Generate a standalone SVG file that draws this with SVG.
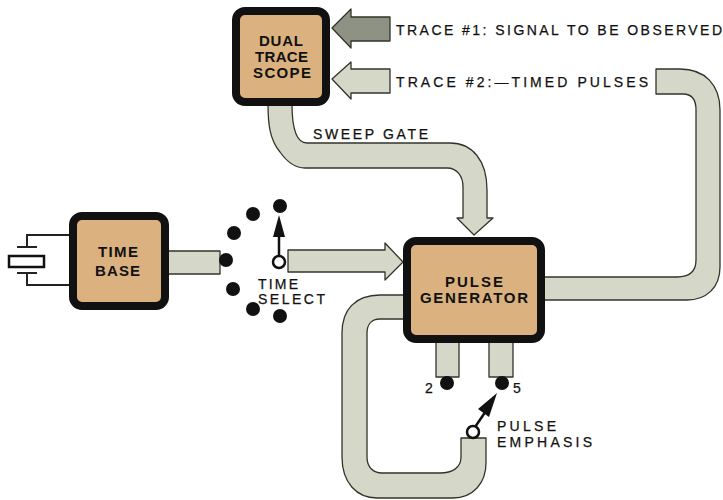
<svg xmlns="http://www.w3.org/2000/svg" width="723" height="500" viewBox="0 0 723 500">
<style>
.bus{fill:#d5d8c9;stroke:#33332b;stroke-width:1.3;stroke-linejoin:round}
.dark{fill:#8e9285}
.box{fill:#dab17f;stroke:#111;stroke-width:8}
.dot{fill:#111}
.wire{fill:none;stroke:#222;stroke-width:2}
.lever{fill:none;stroke:#111;stroke-width:2.5}
.ring{fill:#fff;stroke:#111;stroke-width:2.5}
text{font-family:"Liberation Sans",Arial,sans-serif;fill:#111;font-size:14px;stroke:#111;stroke-width:.25}
.c{font-size:15px;font-weight:bold;stroke:none}
</style>
<rect width="723" height="500" fill="#fff"/>
<g id="connectors">
<path class="bus" d="M268 104C268 125 270 140 280 152C287 162 295 168 305 168H447C457 168 463 176 463 187V218H457L474 235L493 218H487V190C487 160 472 143 450 143H307C298 143 292 132 292 104Z"/>
<path class="bus" d="M167 251H220V274H167Z"/>
<path class="bus" d="M288 250H385V243L403 262L385 280V272H288Z"/>
<path class="bus" d="M543 277H677C689 277 696 272 696 260V110C696 100 692 94 683 94H656V69H680C705 69 720 85 720 110V267C720 288 706 300 687 300H543Z"/>
<path class="bus" d="M405 295H380C355 295 342 310 342 333V457C342 483 357 498 377 498H453C473 498 486 483 486 463V438H461V457C461 468 452 473 440 473H382C373 473 367 467 367 457V333C367 324 372 319 380 319H405Z"/>
<path class="bus" d="M436 341H459V377H436Z"/>
<path class="bus" d="M489 341H513V377H489Z"/>
<path class="bus dark" d="M390 17H351V9L332 28L351 48V41H390Z"/>
<path class="bus" d="M390 69H351V62L332 79L351 99V93H390Z"/>
<path class="wire" d="M69 235H27V247M17 247H37M17 273H37M27 273V285H69"/>
<rect x="9" y="256" width="35" height="11" fill="#fff" stroke="#111" stroke-width="2.5"/>
<path class="lever" d="M279 258V230"/>
<path class="dot" d="M279 215L273 237H285Z"/>
<path class="lever" d="M473 430L488 408"/>
<path class="dot" d="M497 393L478 409L489 417Z"/>
</g>
<g id="time-base"><rect class="box" x="73" y="216" width="92" height="90" rx="9"/><text class="c" x="98" y="257" textLength="40">TIME</text><text class="c" x="95" y="276" textLength="45">BASE</text></g>
<g id="dual-trace-scope"><rect class="box" x="236" y="11" width="90" height="91" rx="9"/><text class="c" x="259" y="46" textLength="44">DUAL</text><text class="c" x="255" y="62" textLength="53">TRACE</text><text class="c" x="253" y="78" textLength="58">SCOPE</text></g>
<g id="pulse-generator"><rect class="box" x="407" y="241" width="134" height="98" rx="9"/><text class="c" x="445" y="287" textLength="58">PULSE</text><text class="c" x="420" y="303" textLength="108">GENERATOR</text></g>
<g id="switch-time"><circle class="dot" cx="226" cy="260" r="7"/><circle class="dot" cx="280" cy="206" r="7"/><circle class="dot" cx="253" cy="214" r="7"/><circle class="dot" cx="234" cy="233" r="7"/><circle class="dot" cx="233" cy="289" r="7"/><circle class="dot" cx="253" cy="309" r="7"/><circle class="dot" cx="280" cy="316" r="7"/><circle class="ring" cx="279" cy="262" r="6"/></g>
<g id="switch-pulse"><circle class="dot" cx="447" cy="383" r="7"/><circle class="dot" cx="502" cy="383" r="7"/><circle class="ring" cx="473" cy="432" r="6"/></g>
<g id="labels">
<text x="396" y="35" textLength="326">TRACE #1: SIGNAL TO BE OBSERVED</text>
<text x="396" y="87" textLength="252">TRACE #2:—TIMED PULSES</text>
<text x="313" y="139" textLength="115">SWEEP GATE</text>
<text x="258" y="289" textLength="40">TIME</text>
<text x="258" y="304" textLength="67">SELECT</text>
<text x="425" y="393">2</text>
<text x="513" y="393">5</text>
<text x="497" y="431" textLength="59">PULSE</text>
<text x="497" y="447" textLength="95">EMPHASIS</text>
</g>
</svg>
